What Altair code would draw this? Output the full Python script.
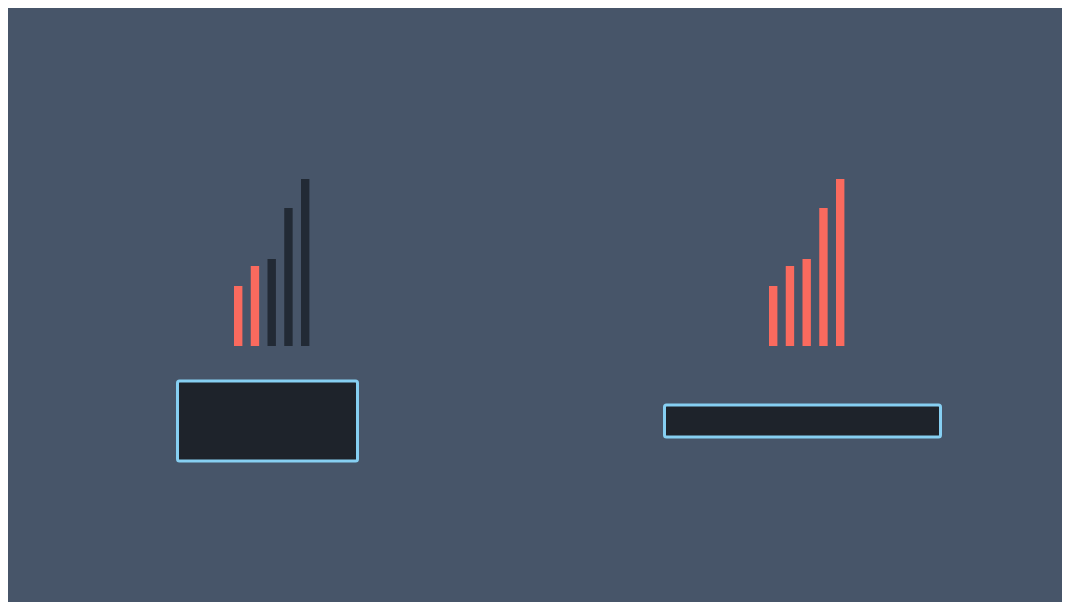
import altair as alt
import pandas as pd

# ---- data ----
panels = ["left", "right"]
panel_centers = [267.5, 802.5]        # centre of each half, layout units
bar_heights = [60, 80, 87, 138, 167]  # height of the five bars
highlighted = [2, 5]                  # how many bars are lit in each panel
bar_step = 16.75
bar_shift = 4.2
bar_width = 8.4
box_widths = [180, 276]
box_heights = [80, 32]
box_center = -75

# colours
BG = "#475569"
RED = "#fa6a5e"
DARK = "#222a35"
BOX_FILL = "#1e232b"
BOX_STROKE = "#86cff2"

rows = []
for p, c, h in zip(panels, panel_centers, highlighted):
    for i, v in enumerate(bar_heights):
        cx = c + (i - 2) * bar_step + bar_shift
        rows.append({
            "panel": p, "bar": i, "height": v, "base": 0,
            "x0": cx - bar_width / 2, "x1": cx + bar_width / 2,
            "state": "on" if i < h else "off",
        })
bars_df = pd.DataFrame(rows)

boxes_df = pd.DataFrame({
    "panel": panels,
    "x0": [c - w / 2 for c, w in zip(panel_centers, box_widths)],
    "x1": [c + w / 2 for c, w in zip(panel_centers, box_widths)],
    "y0": [box_center - h / 2 for h in box_heights],
    "y1": [box_center + h / 2 for h in box_heights],
})

W, H = 1054, 594
xs = alt.Scale(domain=[8, 8 + W], nice=False, zero=False)
ys = alt.Scale(domain=[338 - H, 338], nice=False, zero=False)

bars = alt.Chart(bars_df).mark_bar(cornerRadius=0).encode(
    x=alt.X("x0:Q", scale=xs, axis=None),
    x2="x1:Q",
    y=alt.Y("height:Q", scale=ys, axis=None),
    y2="base:Q",
    color=alt.Color("state:N", scale=alt.Scale(domain=["on", "off"], range=[RED, DARK]), legend=None),
)

boxes = alt.Chart(boxes_df).mark_rect(
    fill=BOX_FILL, stroke=BOX_STROKE, strokeWidth=3, cornerRadius=2
).encode(
    x=alt.X("x0:Q", scale=xs, axis=None),
    x2="x1:Q",
    y=alt.Y("y0:Q", scale=ys, axis=None),
    y2="y1:Q",
)

chart = alt.layer(boxes, bars).properties(
    width=W, height=H,
    autosize=alt.AutoSizeParams(type="fit", contains="padding"),
    padding=0,
    background=BG,
).configure_view(stroke=None)

chart.save("out.html", embed_options={"renderer": "svg", "actions": False})
